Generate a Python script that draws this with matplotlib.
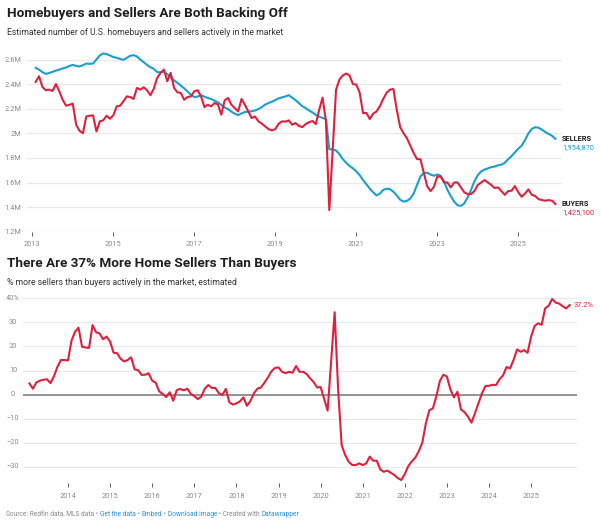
import matplotlib
matplotlib.use('Agg')
import matplotlib.pyplot as plt
import matplotlib.transforms as mtransforms
from matplotlib.offsetbox import TextArea, HPacker, AnchoredOffsetbox
import pandas as pd

plt.rcParams['font.family'] = ['Roboto', 'DejaVu Sans']

# monthly estimates, Feb 2013 .. Dec 2025
months = pd.date_range('2013-02-01', periods=155, freq='MS')

sellers = [2.532, 2.518, 2.497, 2.483, 2.49, 2.50, 2.51, 2.518, 2.527, 2.535,
           2.548, 2.556, 2.548, 2.543, 2.554, 2.567, 2.565, 2.567, 2.60, 2.633,
           2.649, 2.644, 2.633, 2.62, 2.614, 2.605, 2.597, 2.614, 2.63, 2.635,
           2.625, 2.60, 2.578, 2.556, 2.537, 2.524, 2.497, 2.497, 2.50, 2.48,
           2.456, 2.43, 2.41, 2.388, 2.366, 2.339, 2.312, 2.295, 2.298, 2.309,
           2.298, 2.287, 2.279, 2.265, 2.252, 2.23, 2.21, 2.197, 2.176, 2.159,
           2.148, 2.162, 2.173, 2.176, 2.178, 2.186, 2.197, 2.213, 2.233, 2.246,
           2.257, 2.27, 2.284, 2.292, 2.30, 2.31, 2.29,
           2.27, 2.245, 2.22, 2.205, 2.185, 2.17, 2.15, 2.135, 2.125, 2.115,
           1.87, 1.87, 1.86, 1.83, 1.79, 1.76, 1.735, 1.715, 1.69, 1.66,
           1.62, 1.585, 1.55, 1.52, 1.495, 1.51, 1.54, 1.55, 1.545, 1.525,
           1.495, 1.46, 1.445, 1.45, 1.47, 1.51, 1.58, 1.65, 1.675, 1.68,
           1.665, 1.655, 1.665, 1.655, 1.61, 1.54, 1.49, 1.445, 1.415, 1.41,
           1.43, 1.48, 1.54, 1.61, 1.66, 1.69, 1.705, 1.715, 1.725, 1.73,
           1.74, 1.745, 1.76, 1.79, 1.815, 1.845, 1.875, 1.9, 1.945, 2.0,
           2.035, 2.05, 2.045, 2.03, 2.01, 1.995, 1.98, 1.955]

buyers = [2.418, 2.464, 2.377, 2.35, 2.355, 2.344, 2.401, 2.341, 2.273, 2.224,
          2.232, 2.241, 2.069, 2.02, 2.001, 2.137, 2.143, 2.146, 2.015, 2.097,
          2.105, 2.143, 2.118, 2.146, 2.219, 2.224, 2.26, 2.30, 2.295, 2.279,
          2.369, 2.355, 2.374, 2.35, 2.309, 2.363, 2.45, 2.491, 2.518, 2.423,
          2.491, 2.369, 2.333, 2.328, 2.273, 2.295, 2.30, 2.341, 2.35, 2.30,
          2.213, 2.232, 2.219, 2.246, 2.235, 2.151, 2.268, 2.287, 2.232, 2.205,
          2.178, 2.279, 2.232, 2.178, 2.124, 2.137, 2.097, 2.078, 2.056, 2.034,
          2.023, 2.034, 2.078, 2.097, 2.095,
          2.105, 2.07, 2.083, 2.06, 2.05, 2.075, 2.09, 2.10, 2.075, 2.19,
          2.29, 2.10, 1.376, 1.86, 2.355, 2.437, 2.47, 2.486, 2.47, 2.40,
          2.396, 2.33, 2.165, 2.165, 2.116, 2.16, 2.178, 2.22, 2.28, 2.33,
          2.355, 2.36, 2.19, 2.05, 2.0, 1.96, 1.90, 1.84, 1.79, 1.79,
          1.68, 1.57, 1.53, 1.565, 1.648, 1.648, 1.60, 1.60, 1.56, 1.60,
          1.60, 1.56, 1.52, 1.506, 1.506, 1.53, 1.58, 1.60, 1.62, 1.60,
          1.58, 1.555, 1.56, 1.53, 1.50, 1.53, 1.533, 1.571, 1.52, 1.484,
          1.51, 1.544, 1.50, 1.49, 1.465, 1.457, 1.452, 1.457, 1.452, 1.425]

pct_more = [4.7, 2.5, 5.1, 5.8, 6.2, 6.4, 4.8, 7.7, 11.6, 14.4,
            14.4, 14.2, 22.4, 26.1, 27.8, 19.9, 19.6, 19.4, 28.9, 25.9,
            25.4, 23.0, 24.1, 22.0, 17.4, 17.2, 14.9, 13.8, 14.4, 15.5,
            10.5, 10.2, 8.2, 8.3, 8.9, 5.8, 5.0, 1.4, 0.3, -1.0,
            1.0, -2.5, 1.9, 2.4, 1.8, 2.5, 0.4, -0.6, -1.8, -0.8,
            2.5, 4.0, 2.8, 2.8, 0.6, -0.1, 2.4, -3.2, -4.1, -3.6,
            -2.8, -1.1, -4.6, -2.6, 0.6, 2.5, 3.0, 5.0, 7.2, 9.7,
            11.1, 11.3, 9.5, 8.9, 9.5, 9.1, 11.9, 9.5,
            9.5, 8.6, 6.8, 5.3, 3.0, 3.2, -1.7, -6.6, 13.7, 34.2,
            2.0, -20.9, -25.0, -27.8, -29.2, -29.2, -28.5, -29.2, -28.5, -25.7,
            -27.4, -27.4, -31.0, -32.0, -31.5, -32.4, -33.3, -34.6, -35.4, -32.9,
            -29.6, -27.7, -26.1, -23.4, -19.9, -11.9, -6.4, -5.7, -0.6, 5.7,
            8.3, 7.5, 2.2, -1.1, 1.2, -6.1, -7.2, -9.1, -11.6, -7.7,
            -3.6, 0.6, 3.6, 3.7, 4.1, 4.0, 6.4, 8.0, 11.5, 10.9,
            14.4, 18.8, 17.8, 18.5, 17.4, 24.1, 28.5, 29.6, 29.0, 35.8,
            36.9, 39.7, 38.2, 37.8, 36.7, 35.8, 37.2]

top_yticks = [1.2, 1.4, 1.6, 1.8, 2.0, 2.2, 2.4, 2.6]
top_ylabels = ['1.2M', '1.4M', '1.6M', '1.8M', '2M', '2.2M', '2.4M', '2.6M']
top_xyears = [2013, 2015, 2017, 2019, 2021, 2023, 2025]
bot_yticks = [-30, -20, -10, 0, 10, 20, 30, 40]
bot_ylabels = ['\u221230', '\u221220', '\u221210', '0', '10', '20', '30', '40%']
bot_xyears = list(range(2014, 2026))
sellers_last = '1,954,870'
buyers_last = '1,425,100'

BLUE = '#1a9ed0'
RED = '#e0203a'
GRID = '#e9e9e9'
GREY = '#8a8a8a'
DARK = '#1f1f1f'
LINK = '#2a8fd4'

x = months.year + (months.month - 1) / 12

W, H = 601, 525
fig = plt.figure(figsize=(W / 100, H / 100), dpi=100)

def fy(py):
    return 1 - py / H

# titles
fig.text(7 / W, fy(13), 'Homebuyers and Sellers Are Both Backing Off',
         fontsize=9.7, weight='bold', color=DARK, va='center')
fig.text(7 / W, fy(32.5), 'Estimated number of U.S. homebuyers and sellers actively in the market',
         fontsize=6.2, color='#333333', va='center')
fig.text(7 / W, fy(263.5), 'There Are 37% More Home Sellers Than Buyers',
         fontsize=9.7, weight='bold', color=DARK, va='center')
fig.text(7 / W, fy(282.5), '% more sellers than buyers actively in the market, estimated',
         fontsize=6.2, color='#333333', va='center')

# top chart
ax1 = fig.add_axes([27 / W, fy(231.7), 535 / W, 179.7 / H])
ax1.plot(x, sellers, color=BLUE, lw=1.5, solid_joinstyle='round', zorder=3)
ax1.plot(x, buyers, color=RED, lw=1.5, solid_joinstyle='round', zorder=4)
ax1.set_xlim(2012.869, 2026.079)
ax1.set_ylim(1.2, 2.661)
ax1.set_yticks(top_yticks)
ax1.set_yticklabels(top_ylabels)
ax1.set_xticks(top_xyears)
ax1.set_xticklabels([str(y) for y in top_xyears])
ax1.grid(axis='y', color=GRID, lw=0.9)
ax1.set_axisbelow(True)
for s in ax1.spines.values():
    s.set_visible(False)
ax1.tick_params(axis='y', length=0, pad=4, labelsize=5.3, labelcolor=GREY)
ax1.tick_params(axis='x', length=3, width=0.6, color='#444444', pad=4,
                labelsize=5.3, labelcolor=GREY)

fig.text(562 / W, fy(139), 'SELLERS', fontsize=5.3, weight='bold', color=DARK, va='center')
fig.text(562 / W, fy(147.7), sellers_last, fontsize=5.3, color=BLUE, va='center')
fig.text(562 / W, fy(204.3), 'BUYERS', fontsize=5.3, weight='bold', color=DARK, va='center')
fig.text(562 / W, fy(212.7), buyers_last, fontsize=5.3, color=RED, va='center')

# bottom chart
ax2 = fig.add_axes([23 / W, fy(483), 554 / W, 187 / H])
ax2.plot(x, pct_more, color=RED, lw=1.5, solid_joinstyle='round', zorder=4)
ax2.set_xlim(2012.931, 2026.09)
ax2.set_ylim(-36.64, 40.95)
ax2.set_yticks(bot_yticks)
ax2.set_yticklabels([])
ax2.set_xticks(bot_xyears)
ax2.set_xticklabels([str(y) for y in bot_xyears])
ax2.grid(axis='y', color=GRID, lw=0.9)
ax2.axhline(0, color='#8c8c8c', lw=1.3, zorder=2)
ax2.set_axisbelow(True)
for s in ax2.spines.values():
    s.set_visible(False)
ax2.tick_params(axis='y', length=0)
ax2.tick_params(axis='x', length=3, width=0.6, color='#444444', pad=4,
                labelsize=5.3, labelcolor=GREY)
trans = mtransforms.blended_transform_factory(fig.transFigure, ax2.transData)
for v, lab in zip(bot_yticks, bot_ylabels):
    fig.text(13 / W, v, lab, transform=trans, ha='center', va='center',
             fontsize=5.3, color=GREY)
fig.text(574 / W, pct_more[-1], f'{pct_more[-1]:.1f}%', transform=trans,
         va='center', fontsize=5.3, color=RED)

# footer: coloured pieces packed on one baseline
pieces = [('Source: Redfin data, MLS data \u2022 ', GREY), ('Get the data', LINK),
          (' \u2022 ', GREY), ('Embed', LINK), (' \u2022 ', GREY),
          ('Download image', LINK), (' \u2022 Created with ', GREY), ('Datawrapper', LINK)]
areas = [TextArea(t, textprops=dict(color=c, fontsize=4.8)) for t, c in pieces]
row = HPacker(children=areas, align='baseline', pad=0, sep=0)
footer = AnchoredOffsetbox(loc='center left', child=row, pad=0, borderpad=0, frameon=False,
                           bbox_to_anchor=(6 / W, fy(515)), bbox_transform=fig.transFigure)
fig.add_artist(footer)

fig.savefig('out.png', dpi=100)
